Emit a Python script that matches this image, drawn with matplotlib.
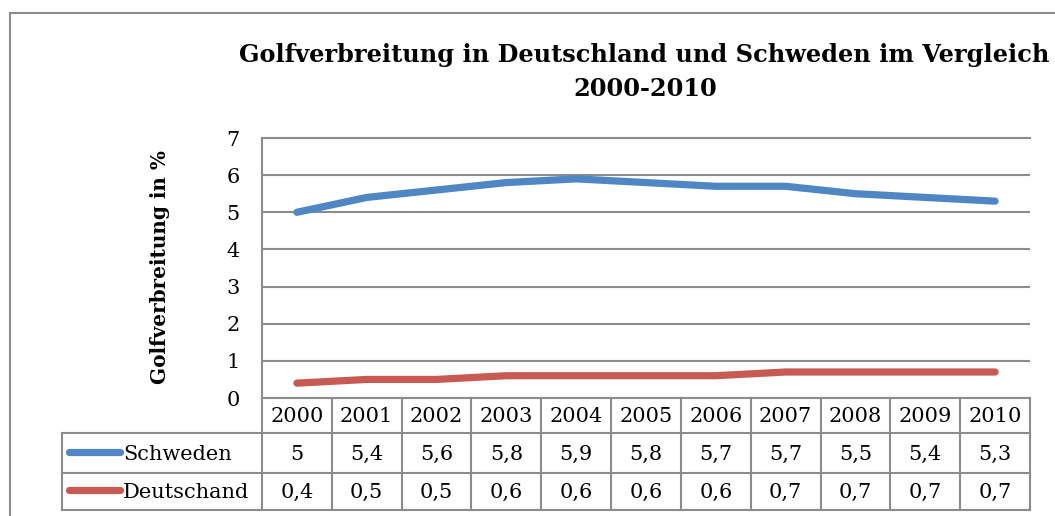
import matplotlib
matplotlib.use("Agg")
import matplotlib.pyplot as plt
import matplotlib.transforms as mtransforms
from matplotlib.patches import Rectangle

# ── data ──────────────────────────────────────────────────────────────────────
years = ["2000", "2001", "2002", "2003", "2004", "2005",
         "2006", "2007", "2008", "2009", "2010"]
schweden = [5, 5.4, 5.6, 5.8, 5.9, 5.8, 5.7, 5.7, 5.5, 5.4, 5.3]
deutschland = [0.4, 0.5, 0.5, 0.6, 0.6, 0.6, 0.6, 0.7, 0.7, 0.7, 0.7]
series_names = ["Schweden", "Deutschand"]
y_ticks = [0, 1, 2, 3, 4, 5, 6, 7]

title = "Golfverbreitung in Deutschland und Schweden im Vergleich\n2000-2010"
y_label = "Golfverbreitung in %"

# ── style ─────────────────────────────────────────────────────────────────────
BLUE = "#4F86C4"
RED = "#C75A52"
GRID = "#8c8c8c"
plt.rcParams["font.family"] = "DejaVu Serif"

W, H = 1055, 516
fig = plt.figure(figsize=(W / 100, H / 100), dpi=100)


def fx(px):
    return px / W


def fy(py):
    return 1 - py / H


# outer chart frame (cut off on the right and bottom like the reference)
fig.patches.append(Rectangle((fx(10), fy(560)), fx(1100), (560 - 13) / H,
                             transform=fig.transFigure, fill=False,
                             ec=GRID, lw=1.5))

# plot area
PL, PR, PT, PB = 262, 1030, 138, 398
ax = fig.add_axes([fx(PL), fy(PB), (PR - PL) / W, (PB - PT) / H])

x = list(range(len(years)))
ax.plot(x, schweden, color=BLUE, lw=5.2, solid_capstyle="round", zorder=3)
ax.plot(x, deutschland, color=RED, lw=5.2, solid_capstyle="round", zorder=3)

ax.set_yticks(y_ticks)
ax.set_yticklabels([str(t) for t in y_ticks], fontsize=15)
ax.set_xticks([])
ax.tick_params(axis="y", length=0, pad=16)
ax.yaxis.grid(True, color=GRID, lw=1.5)
ax.set_axisbelow(True)
for side in ["left", "top", "bottom"]:
    ax.spines[side].set_color(GRID)
    ax.spines[side].set_linewidth(1.5)
ax.spines["right"].set_visible(False)

fig.text(fx(644), fy(55), title.split("\n")[0], ha="center", va="center",
         fontsize=17.3, fontweight="bold")
fig.text(fx(645), fy(89), title.split("\n")[1], ha="center", va="center",
         fontsize=17.3, fontweight="bold")
fig.text(fx(160), fy(267), y_label, rotation=90, ha="center", va="center",
         fontsize=14.4, fontweight="bold")

# ── data table under the plot ─────────────────────────────────────────────────
trans = mtransforms.blended_transform_factory(ax.transData, ax.transAxes)
n = len(years)
px_per_unit = (PR - PL) / n


def dx(px):
    return -0.5 + (px - PL) / px_per_unit


def ay(py):
    return (PB - py) / (PB - PT)


rows_px = [398, 433, 473, 510]
x_leg = dx(62)
line_kw = dict(color=GRID, lw=1.5, transform=trans, clip_on=False)

for i in range(n + 1):
    ax.plot([i - 0.5, i - 0.5], [ay(rows_px[0]), ay(rows_px[-1])], **line_kw)
ax.plot([x_leg, x_leg], [ay(rows_px[1]), ay(rows_px[-1])], **line_kw)
for r in rows_px[1:]:
    ax.plot([x_leg, n - 0.5], [ay(r), ay(r)], **line_kw)

for i, yr in enumerate(years):
    ax.text(i, ay(416), yr, ha="center", va="center", fontsize=15,
            transform=trans, clip_on=False)

fmt = lambda v: f"{v:g}".replace(".", ",")
for vals, color, name, yc in [(schweden, BLUE, series_names[0], 454),
                              (deutschland, RED, series_names[1], 492)]:
    for i, v in enumerate(vals):
        ax.text(i, ay(yc), fmt(v), ha="center", va="center", fontsize=15,
                transform=trans, clip_on=False)
    ax.plot([dx(69), dx(120)], [ay(yc - 2), ay(yc - 2)], color=color, lw=5.2,
            solid_capstyle="round", transform=trans, clip_on=False)
    ax.text(dx(123), ay(yc), name, ha="left", va="center", fontsize=15,
            transform=trans, clip_on=False)

ax.set_xlim(-0.5, n - 0.5)
ax.set_ylim(0, 7)

fig.savefig("out.png", dpi=100)
